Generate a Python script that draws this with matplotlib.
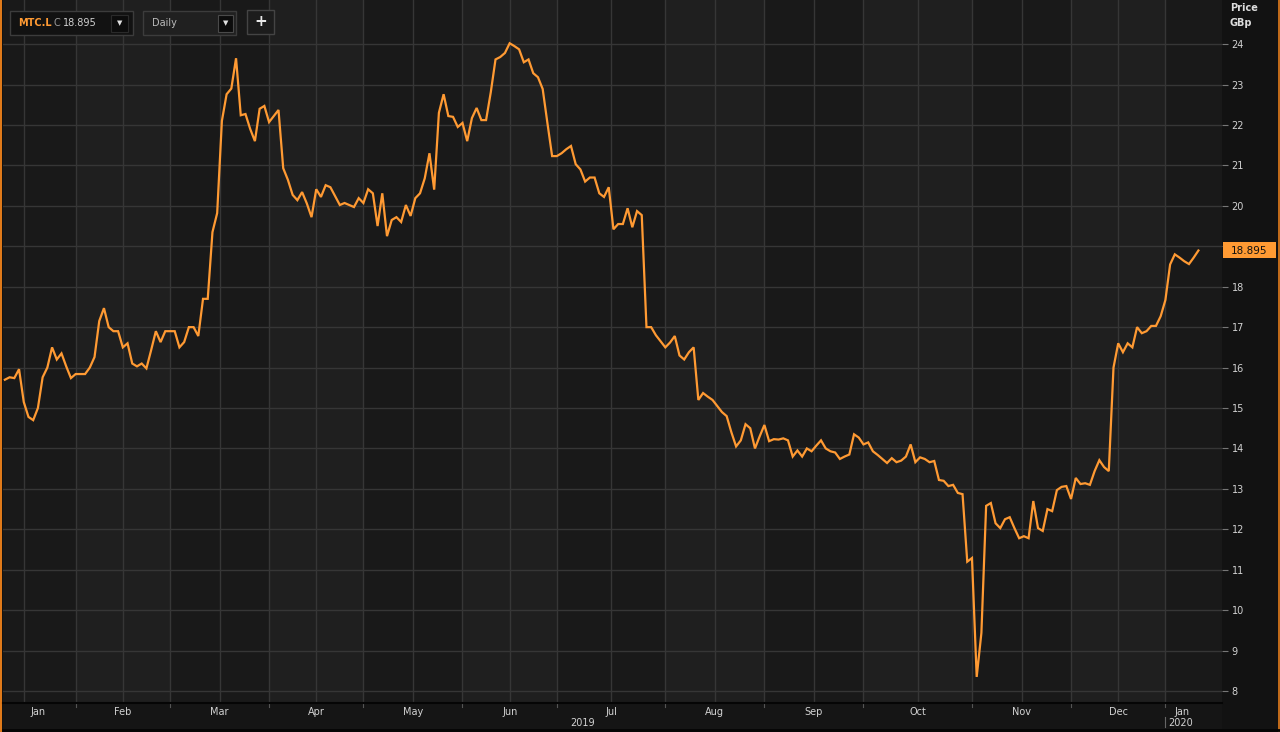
import numpy as np
import pandas as pd
import matplotlib
matplotlib.use("Agg")
import matplotlib.pyplot as plt
from matplotlib.patches import Rectangle

# ---------------- data (MTC.L daily close, GBp) ----------------
uk_holidays = ["2019-04-19", "2019-04-22", "2019-05-06", "2019-05-27",
               "2019-08-26", "2019-12-25", "2019-12-26", "2020-01-01"]
start_date = "2019-01-11"
end_date = "2020-01-13"

jan19 = [15.70, 15.76, 15.74, 15.96, 15.15, 14.78, 14.70, 15.00, 15.76, 16.00,
         16.50, 16.20, 16.35, 16.03, 15.74]
feb19 = [15.84, 15.84, 15.84, 16.00, 16.26, 17.15, 17.47, 17.00, 16.90, 16.90,
         16.50, 16.60, 16.10, 16.03, 16.10, 15.98, 16.43, 16.90, 16.63, 16.90]
mar19 = [16.90, 16.90, 16.50, 16.63, 17.00, 17.00, 16.78, 17.70, 17.70, 19.35,
         19.82, 22.10, 22.76, 22.90, 23.65, 22.24, 22.27, 21.90, 21.60, 22.40, 22.47]
apr19 = [22.07, 22.22, 22.37, 20.93, 20.64, 20.27, 20.14, 20.34, 20.06, 19.72,
         20.41, 20.22, 20.51, 20.46, 20.24, 20.02, 20.07, 20.02, 19.97, 20.19]
may19 = [20.07, 20.41, 20.31, 19.50, 20.31, 19.25, 19.65, 19.72, 19.60, 20.02,
         19.75, 20.19, 20.31, 20.68, 21.30, 20.40, 22.30, 22.76, 22.22, 22.20, 21.95]
jun19 = [22.05, 21.60, 22.17, 22.42, 22.12, 22.12, 22.81, 23.62, 23.68, 23.78,
         24.02, 23.95, 23.87, 23.55, 23.62, 23.28, 23.18, 22.89, 22.05, 21.23]
jul19 = [21.23, 21.30, 21.40, 21.48, 21.03, 20.90, 20.60, 20.70, 20.70, 20.31,
         20.22, 20.46, 19.42, 19.55, 19.55, 19.94, 19.47, 19.87, 19.77, 17.00,
         17.00, 16.80, 16.65]
aug19 = [16.50, 16.62, 16.78, 16.30, 16.20, 16.38, 16.50, 15.20, 15.37, 15.28,
         15.20, 15.05, 14.90, 14.80, 14.40, 14.05, 14.20, 14.60, 14.50, 14.00, 14.30]
sep19 = [14.58, 14.18, 14.23, 14.22, 14.25, 14.20, 13.80, 13.95, 13.80, 14.00,
         13.93, 14.07, 14.20, 14.00, 13.93, 13.90, 13.74, 13.80, 13.85, 14.35, 14.27]
oct19 = [14.10, 14.15, 13.93, 13.84, 13.74, 13.64, 13.76, 13.66, 13.70, 13.80,
         14.10, 13.66, 13.78, 13.74, 13.66, 13.69, 13.22, 13.20, 13.07, 13.10,
         12.90, 12.87, 11.20]
nov19 = [11.29, 8.35, 9.44, 12.58, 12.65, 12.15, 12.03, 12.25, 12.30, 12.03,
         11.78, 11.83, 11.78, 12.70, 12.03, 11.96, 12.50, 12.45, 12.97, 13.05, 13.07]
dec19 = [12.75, 13.27, 13.12, 13.14, 13.10, 13.44, 13.71, 13.54, 13.44, 16.00,
         16.60, 16.38, 16.60, 16.50, 17.00, 16.85, 16.90, 17.03, 17.03, 17.27]
jan20 = [17.67, 18.55, 18.80, 18.72, 18.63, 18.56, 18.72, 18.895]

last_close = 18.895
ticker = "MTC.L"
interval = "Daily"
y_ticks = list(range(8, 25))

# ---------------- build series ----------------
prices = np.array(jan19 + feb19 + mar19 + apr19 + may19 + jun19 + jul19 +
                  aug19 + sep19 + oct19 + nov19 + dec19 + jan20)
dates = pd.bdate_range(start_date, end_date, freq="C", holidays=uk_holidays)
n = min(len(dates), len(prices))
dates = dates[:n]
prices = prices[:n]
xi = np.arange(n)

# ---------------- styling ----------------
W, H = 1280, 732
BG_DARK = "#191919"
BG_LIGHT = "#1f1f1f"
GRID = "#363636"
ORANGE = "#ff9a33"
TXT = "#d2d2d2"
FS = 7

fig = plt.figure(figsize=(W / 100, H / 100), dpi=100, facecolor="#121212")

L, R = 3, 1222
TOP, BOT = 0, 702
ax = fig.add_axes([L / W, (H - BOT) / H, (R - L) / W, (BOT - TOP) / H])
ax.set_facecolor(BG_DARK)
xlim = (-0.4, 258.0)
ax.set_xlim(*xlim)
ax.set_ylim(7.73, 25.09)

# month structure
per = dates.to_period("M")
months = []
for p in per.unique():
    idx = np.where(per == p)[0]
    months.append((p, idx[0], idx[-1]))

# alternating month bands
for k, (p, a, b) in enumerate(months):
    lo = a if k > 0 else xlim[0]
    hi = months[k + 1][1] if k + 1 < len(months) else xlim[1]
    if p.month % 2 == 0:
        ax.axvspan(lo, hi, color=BG_LIGHT, lw=0, zorder=0)

# gridlines
for v in y_ticks:
    ax.axhline(v, color=GRID, lw=1, zorder=1)
for k, (p, a, b) in enumerate(months):
    nxt = months[k + 1][1] if k + 1 < len(months) else None
    if k > 0:
        ax.axvline(a, color=GRID, lw=1, zorder=1)
    if k == 0:
        virt_start = a - 7
        ax.axvline((virt_start + nxt) / 2, color=GRID, lw=1, zorder=1)
    elif nxt is not None:
        ax.axvline((a + nxt) / 2, color=GRID, lw=1, zorder=1)

ax.plot(xi, prices, color=ORANGE, lw=1.6, zorder=3, solid_joinstyle="miter")

# right price axis (label hidden where the last-price flag sits)
flag_hidden = int(round(last_close))
ax.set_xticks([])
ax.yaxis.tick_right()
ax.set_yticks(y_ticks)
ax.set_yticklabels(["" if v == flag_hidden else str(v) for v in y_ticks])
ax.tick_params(axis="y", colors="#777777", labelcolor=TXT, labelsize=FS,
               length=4, width=0.8, pad=3, direction="out")
for s in ax.spines.values():
    s.set_visible(False)

# bottom time axis strip
axb = fig.add_axes([L / W, 3 / H, (R - L) / W, 27 / H])
axb.set_facecolor("#151515")
axb.set_xlim(*xlim)
axb.set_ylim(0, 27)
axb.set_xticks([])
axb.set_yticks([])
for s in axb.spines.values():
    s.set_visible(False)
for k, (p, a, b) in enumerate(months):
    nxt = months[k + 1][1] if k + 1 < len(months) else None
    if k > 0:
        axb.plot([a, a], [26, 22.5], color="#555555", lw=0.8)
    if k == 0 or nxt is None:
        cx = (a + b) / 2
    else:
        cx = (a + nxt) / 2
    axb.text(cx, 17, p.strftime("%b"), color=TXT, fontsize=FS,
             ha="center", va="center")
# years
yrs = dates.year
y20 = np.where(yrs == 2020)[0]
axb.text((xlim[0] + y20[0] - 0.5) / 2, 6.5, "2019", color=TXT, fontsize=FS,
         ha="center", va="center")
axb.plot([y20[0], y20[0]], [12, 2], color="#666666", lw=0.8)
axb.text(y20[0] + 0.6, 6.5, "2020", color=TXT, fontsize=FS, ha="left", va="center")

# overlay in pixel coordinates for UI chrome
ov = fig.add_axes([0, 0, 1, 1], facecolor="none")
ov.set_xlim(0, W)
ov.set_ylim(H, 0)
ov.axis("off")
ov.add_patch(Rectangle((0, 0), 2, H, facecolor="#e07a1a", lw=0))
ov.add_patch(Rectangle((1278, 0), 2, H, facecolor="#c06a1a", lw=0))
ov.plot([3, 1222], [702.5, 702.5], color="#050505", lw=1.5)
ov.plot([3, 1280], [730, 730], color="#050505", lw=2)

ov.text(1230, 8, "Price", color="#dddddd", fontsize=FS, fontweight="bold",
        ha="left", va="center")
ov.text(1230, 23, "GBp", color="#dddddd", fontsize=FS, fontweight="bold",
        ha="left", va="center")

# last price flag
ov.add_patch(Rectangle((1223, 242), 53, 16, facecolor=ORANGE, lw=0))
ov.text(1249.5, 250.5, f"{last_close:.3f}", color="#111111", fontsize=7.5,
        ha="center", va="center")

# top-left controls
ov.add_patch(Rectangle((10, 11), 123, 24, facecolor="#121212", edgecolor="#3c3c3c", lw=1))
ov.text(18, 23.5, ticker, color=ORANGE, fontsize=7, fontweight="bold",
        ha="left", va="center")
ov.text(54, 23.5, "C", color="#9a9a9a", fontsize=7, ha="left", va="center")
ov.text(63, 23.5, f"{last_close:.3f}", color="#d0d0d0", fontsize=7,
        ha="left", va="center")
ov.add_patch(Rectangle((111, 15), 17, 17, facecolor="#0c0c0c", edgecolor="#2a2a2a", lw=0.8))
ov.text(119.5, 23.5, "▼", color="#e0e0e0", fontsize=5, ha="center", va="center")

ov.add_patch(Rectangle((143, 11), 93, 24, facecolor="#202020", edgecolor="#3c3c3c", lw=1))
ov.text(152, 23, interval, color="#bbbbbb", fontsize=7, ha="left", va="center")
ov.add_patch(Rectangle((218, 15), 15, 17, facecolor="#0c0c0c", edgecolor="#4a4a4a", lw=0.8))
ov.text(225.5, 23.5, "▼", color="#e0e0e0", fontsize=5, ha="center", va="center")

ov.add_patch(Rectangle((247, 10), 27, 24, facecolor="#1c1c1c", edgecolor="#444444", lw=1))
ov.text(260.5, 21.5, "+", color="#e8e8e8", fontsize=11, fontweight="bold",
        ha="center", va="center")

fig.savefig("out.png", dpi=100, facecolor=fig.get_facecolor())
